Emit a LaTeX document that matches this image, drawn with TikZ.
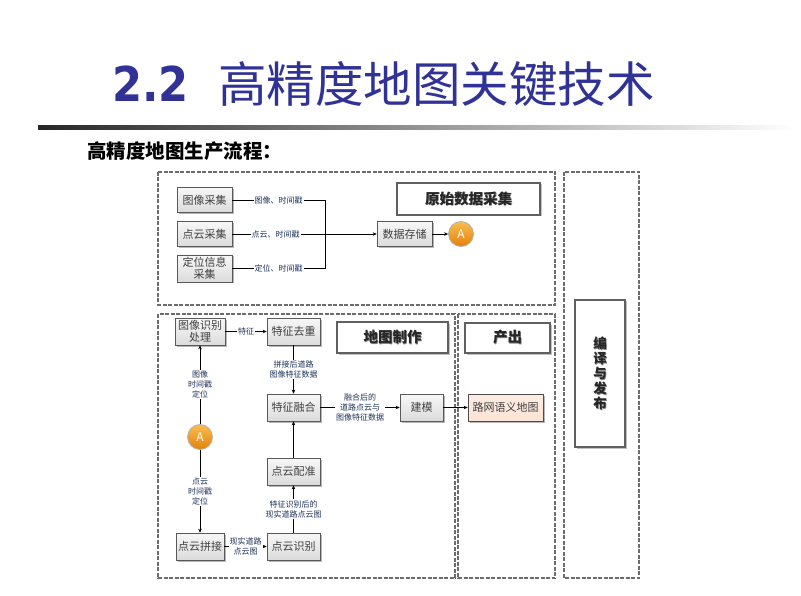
\documentclass[tikz,border=0pt]{standalone}
\usepackage{fontspec}
\setmainfont{Noto Sans CJK SC}
\newfontfamily\latinb{DejaVu Sans}
\usetikzlibrary{arrows.meta,shadows,calc}
\definecolor{titleblue}{RGB}{48,50,150}
\definecolor{lblcol}{RGB}{30,50,90}
\definecolor{peach}{RGB}{252,228,214}
\definecolor{orangeL}{RGB}{250,190,80}
\definecolor{orangeD}{RGB}{228,128,10}
\newcommand\shadowtxt[1]{\makebox[0pt][l]{\hspace{0.9pt}\raisebox{-0.9pt}{\textcolor{gray}{#1}}}#1}
\tikzset{
 region/.style={draw=gray!85!black, line width=2pt, dash pattern=on 4pt off 1.5pt},
 procbox/.style={draw=gray!70!black, line width=0.6pt, top color=gray!6, bottom color=gray!28,
   minimum width=55pt, minimum height=25pt, font=\fontsize{11}{12.5}\selectfont, text=black!75,
   align=center, inner sep=1pt,
   drop shadow={shadow xshift=1.5pt, shadow yshift=-1.5pt, fill=gray!70, opacity=0.8}},
 titlebox/.style={draw=gray!75!black, line width=2.2pt, fill=white, align=center,
   drop shadow={shadow xshift=1.5pt, shadow yshift=-1.5pt, fill=gray!60, opacity=0.8},
   font=\bfseries\fontsize{14.5}{17}\selectfont, text=black!85},
 lbl/.style={font=\fontsize{8}{10}\selectfont, text=lblcol, fill=white, inner sep=1pt, align=center},
 conn/.style={draw=black, line width=0.8pt},
 arr/.style={conn, -{Stealth[length=4pt,width=3.5pt]}},
 ballA/.style={circle, minimum size=25pt, inner sep=0pt, top color=orangeL, bottom color=orangeD,
   draw=gray!60, line width=0.8pt, text=white, font=\fontsize{12}{12}\selectfont},
}
\begin{document}
\begin{tikzpicture}[x=1pt,y=-1pt]
\useasboundingbox (0,0) rectangle (801,596);
\fill[white] (0,0) rectangle (801,596);

% heading
\node[anchor=base west, inner sep=0, text=titleblue, font=\latinb\bfseries\fontsize{48}{48}\selectfont] (num) at (112,102) {\scalebox{0.9}[1]{2.2}};
\node[anchor=base west, inner sep=0, text=titleblue, font=\fontsize{48.5}{48.5}\selectfont] (ttl) at (218,103) {高精度地图关键技术};
\shade[left color=black!85, right color=white] (38,126) rectangle (795,130);
\node[anchor=base west, inner sep=0, font=\bfseries\fontsize{19.5}{19.5}\selectfont] (sub) at (87,159) {高精度地图生产流程：};

% regions
\draw[region] (158,172) rectangle (555,305);
\draw[region] (158,314) rectangle (455,578);
\draw[region] (458,314) rectangle (555,578);
\draw[region] (564,172) rectangle (639,578);

% top region
\node[procbox] (img) at (204.5,200) {图像采集};
\node[procbox] (pc) at (204.5,234) {点云采集};
\node[procbox, minimum height=27pt] (pos) at (204.5,268.5) {定位信息\\采集};
\node[procbox] (store) at (404.5,234) {数据存储};
\node[ballA] (A1) at (461,234) {A};
\node[titlebox, minimum width=143pt, minimum height=32pt] (T1) at (468.5,199) {\shadowtxt{原始数据采集}};

\coordinate (j) at (325,234);
\draw[conn] (img.east) -- node[lbl]{图像、时间戳} (img.east -| j) -- (j);
\draw[conn] (pos.east) -- node[lbl]{定位、时间戳} (pos.east -| j) -- (j);
\draw[arr] (pc.east) -- node[lbl, pos=0.3]{点云、时间戳} (store.west);
\draw[arr] (store) -- (A1);

% map-making region
\node[procbox, minimum width=50pt, minimum height=27pt] (recog) at (200,331.5) {图像识别\\处理};
\node[procbox, minimum width=53pt, minimum height=27pt] (dedup) at (293.5,331.5) {特征去重};
\node[titlebox, minimum width=111pt, minimum height=31pt] (T2) at (392.5,337.5) {\shadowtxt{地图制作}};
\node[procbox, minimum width=53pt, minimum height=27pt] (fuse) at (293.5,407.5) {特征融合};
\node[procbox, minimum width=43pt, minimum height=27pt] (model) at (421.5,407.5) {建模};
\node[ballA] (A2) at (200,437) {A};
\node[procbox, minimum width=48pt, minimum height=27pt] (stitch) at (200,546.5) {点云拼接};
\node[procbox, minimum width=53pt, minimum height=27pt] (pcrec) at (293.5,546.5) {点云识别};
\node[procbox, minimum width=53pt, minimum height=27pt] (reg) at (293.5,471.5) {点云配准};

% output region
\node[titlebox, minimum width=85pt, minimum height=30pt] (T3) at (507.5,338) {\shadowtxt{产出}};
\node[procbox, minimum width=75pt, minimum height=27pt, top color=peach!70, bottom color=peach, draw=gray!60!black] (out) at (505.5,407.5) {路网语义地图};

% publish region
\node[titlebox, minimum width=50pt, minimum height=147pt, font=\bfseries\fontsize{13.5}{15}\selectfont] (T4) at (600,373.5)
  {\shadowtxt{编}\\\shadowtxt{译}\\\shadowtxt{与}\\\shadowtxt{发}\\\shadowtxt{布}};

% connectors
\draw[arr] (recog) -- node[lbl]{特征} (dedup);
\draw[arr] (dedup) -- node[lbl]{拼接后道路\\图像特征数据} (fuse);
\draw[arr] (fuse) -- node[lbl]{融合后的\\道路点云与\\图像特征数据} (model);
\draw[arr] (model) -- (out);
\draw[arr] (A2) -- node[lbl]{图像\\时间戳\\定位} (recog);
\draw[arr] (A2) -- node[lbl]{点云\\时间戳\\定位} (stitch);
\draw[arr] (stitch) -- node[lbl]{现实道路\\点云图} (pcrec);
\draw[arr] (pcrec) -- node[lbl]{特征识别后的\\现实道路点云图} (reg);
\draw[arr] (reg) -- (fuse);
\end{tikzpicture}
\end{document}
